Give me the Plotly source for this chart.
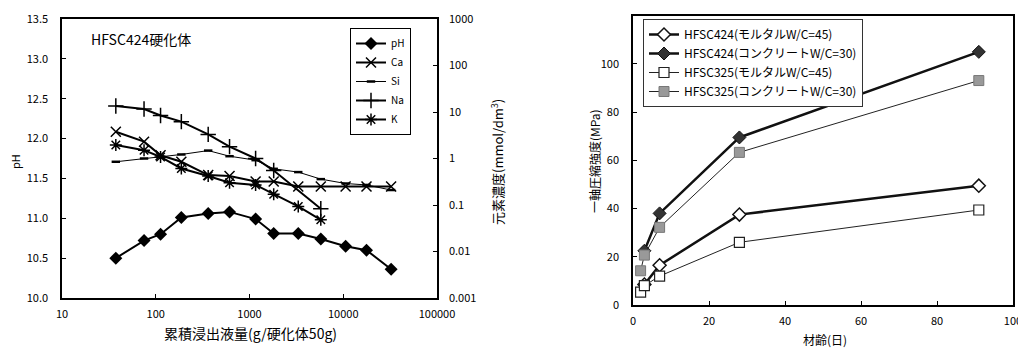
import plotly.graph_objects as go

# ---------- Left chart data ----------
leach_x = [37.5, 75, 112.5, 187.5, 362.5, 612.5, 1162, 1812, 3312, 5762, 10600, 17700, 32400]
ph_vals = [10.50, 10.72, 10.80, 11.01, 11.06, 11.08, 10.99, 10.81, 10.81, 10.74, 10.65, 10.60, 10.36]
ca_vals = [3.75, 2.3, 1.17, 0.85, 0.44, 0.42, 0.32, 0.32, 0.25, 0.25, 0.25, 0.25, 0.25]
si_vals = [0.85, 1.0, 1.08, 1.22, 1.48, 1.12, 0.92, 0.60, 0.51, 0.36, 0.29, 0.27, 0.21]
na_x = [37.5, 75, 112.5, 187.5, 362.5, 612.5, 1162, 1812, 5762]
na_vals = [13.5, 11.6, 8.4, 6.2, 3.3, 1.8, 1.0, 0.55, 0.083]
k_x = [37.5, 75, 112.5, 187.5, 362.5, 612.5, 1162, 1812, 3312, 5762]
k_vals = [1.95, 1.51, 1.08, 0.61, 0.42, 0.30, 0.27, 0.17, 0.093, 0.048]

x_ticks = [10, 100, 1000, 10000, 100000]
ph_ticks = [10.0, 10.5, 11.0, 11.5, 12.0, 12.5, 13.0, 13.5]
conc_ticks = [0.001, 0.01, 0.1, 1, 10, 100, 1000]

# ---------- Right chart data ----------
age_424m = [3, 7, 28, 91]
str_424m = [8.5, 16.5, 37.5, 49.5]
age_424c = [3, 7, 28, 91]
str_424c = [22.5, 38.0, 69.5, 105.0]
age_325m = [2, 3, 7, 28, 91]
str_325m = [5.3, 8.0, 12.0, 26.0, 39.4]
age_325c = [2, 3, 7, 28, 91]
str_325c = [14.2, 20.7, 32.2, 63.3, 93.1]

FONT = "Noto Sans CJK JP"
OFF = 8  # page body margin
W, H = 1026 - OFF, 349 - OFF

def px(x):
    return (x - OFF) / W

def py(y):
    return 1 - (y - OFF) / H

fig = go.Figure()

fig.add_trace(go.Scatter(x=leach_x, y=ph_vals, name="pH", mode="lines+markers",
                         line=dict(color="black", width=2),
                         marker=dict(symbol="diamond", size=10, color="black"),
                         xaxis="x", yaxis="y", legend="legend"))
fig.add_trace(go.Scatter(x=leach_x, y=ca_vals, name="Ca", mode="lines+markers",
                         line=dict(color="black", width=2),
                         marker=dict(symbol="x-thin-open", size=10, color="black", line=dict(width=1.5, color="black")),
                         xaxis="x", yaxis="y2", legend="legend"))
fig.add_trace(go.Scatter(x=leach_x, y=si_vals, name="Si", mode="lines+markers",
                         line=dict(color="black", width=1),
                         marker=dict(symbol="line-ew-open", size=6, color="black", line=dict(width=2.5, color="black")),
                         xaxis="x", yaxis="y2", legend="legend"))
fig.add_trace(go.Scatter(x=na_x, y=na_vals, name="Na", mode="lines+markers",
                         line=dict(color="black", width=2),
                         marker=dict(symbol="cross-thin-open", size=11, color="black", line=dict(width=1.5, color="black")),
                         xaxis="x", yaxis="y2", legend="legend"))
fig.add_trace(go.Scatter(x=k_x, y=k_vals, name="K", mode="lines+markers",
                         line=dict(color="black", width=2),
                         marker=dict(symbol="asterisk-open", size=10, color="black", line=dict(width=1.5, color="black")),
                         xaxis="x", yaxis="y2", legend="legend"))

fig.add_trace(go.Scatter(x=age_424m, y=str_424m, name="HFSC424(モルタルW/C=45)", mode="lines+markers",
                         line=dict(color="#111", width=2.5),
                         marker=dict(symbol="diamond", size=10, color="white", line=dict(width=1.5, color="#111")),
                         xaxis="x2", yaxis="y3", legend="legend2"))
fig.add_trace(go.Scatter(x=age_424c, y=str_424c, name="HFSC424(コンクリートW/C=30)", mode="lines+markers",
                         line=dict(color="#111", width=2.5),
                         marker=dict(symbol="diamond", size=10, color="#333", line=dict(width=1, color="#111")),
                         xaxis="x2", yaxis="y3", legend="legend2"))
fig.add_trace(go.Scatter(x=age_325m, y=str_325m, name="HFSC325(モルタルW/C=45)", mode="lines+markers",
                         line=dict(color="#222", width=1),
                         marker=dict(symbol="square", size=10, color="white", line=dict(width=1.2, color="#222")),
                         xaxis="x2", yaxis="y3", legend="legend2"))
fig.add_trace(go.Scatter(x=age_325c, y=str_325c, name="HFSC325(コンクリートW/C=30)", mode="lines+markers",
                         line=dict(color="#222", width=1),
                         marker=dict(symbol="square", size=10, color="#999", line=dict(width=1, color="#777")),
                         xaxis="x2", yaxis="y3", legend="legend2"))

axis_common = dict(showgrid=False, zeroline=False, showline=True, linecolor="black", linewidth=1.5,
                   ticks="inside", ticklen=4, tickcolor="black", automargin=False,
                   tickfont=dict(family=FONT, size=11, color="black"))

fig.update_layout(
    width=W, height=H,
    margin=dict(l=0, r=0, t=0, b=0, pad=0),
    paper_bgcolor="white", plot_bgcolor="white",
    font=dict(family=FONT, color="black"),
    xaxis=dict(axis_common, type="log", domain=[px(62), px(437)], range=[1, 5],
               tickvals=x_ticks, ticktext=[str(v) for v in x_ticks], anchor="y", mirror=True,
               ticklabelstandoff=5),
    yaxis=dict(axis_common, domain=[py(298), py(19)], range=[10, 13.5],
               tickvals=ph_ticks, ticktext=[f"{v:.1f}" for v in ph_ticks], anchor="x",
               ticklabelstandoff=10),
    yaxis2=dict(axis_common, type="log", overlaying="y", side="right", anchor="x", range=[-3, 3],
                tickvals=conc_ticks, ticktext=[str(v) for v in conc_ticks], ticklabelstandoff=8),
    xaxis2=dict(axis_common, domain=[px(633), px(1013)], range=[0, 100], dtick=20, anchor="y3", mirror=True,
                ticklabelstandoff=5),
    yaxis3=dict(axis_common, domain=[py(305), py(15.7)], range=[0, 120], dtick=20, anchor="x2", mirror=True,
                ticklabelstandoff=10),
    legend=dict(x=px(350), y=py(28), xanchor="left", yanchor="top", bgcolor="white",
                bordercolor="black", borderwidth=1, font=dict(family=FONT, size=10),
                itemwidth=30, tracegroupgap=0),
    legend2=dict(x=px(643), y=py(19), xanchor="left", yanchor="top", bgcolor="white",
                 bordercolor="#333", borderwidth=1, font=dict(family=FONT, size=12),
                 itemwidth=30),
    showlegend=True,
)

annos = [
    dict(x=px(89), y=py(39), text="HFSC424硬化体", xanchor="left", yanchor="middle", font=dict(size=14)),
    dict(x=px(15), y=py(162), text="pH", textangle=-90, xanchor="center", yanchor="middle", font=dict(size=11)),
    dict(x=px(250), y=py(333), text="累積浸出液量(g/硬化体50g)", xanchor="center", yanchor="middle", font=dict(size=14)),
    dict(x=px(497), y=py(162), text="元素濃度(mmol/dm<sup>3</sup>)", textangle=-90, xanchor="center", yanchor="middle", font=dict(size=13)),
    dict(x=px(594), y=py(161), text="一軸圧縮強度(MPa)", textangle=-90, xanchor="center", yanchor="middle", font=dict(size=12)),
    dict(x=px(825), y=py(339), text="材齢(日)", xanchor="center", yanchor="middle", font=dict(size=12)),
]
for a in annos:
    a.update(xref="paper", yref="paper", showarrow=False)
    a["font"] = dict(family=FONT, color="black", **a["font"])
fig.update_layout(annotations=annos)

fig.write_html("out.html")
